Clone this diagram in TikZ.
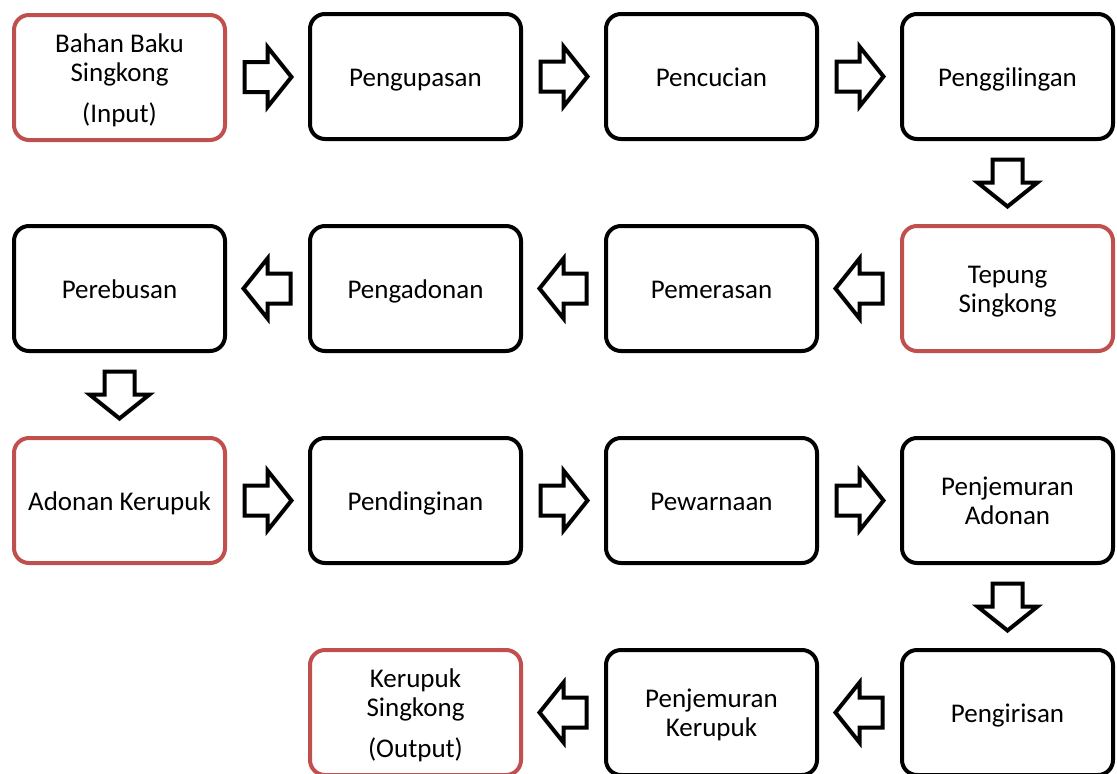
\documentclass[tikz,border=0pt]{standalone}
\usepackage{fontspec}
\setmainfont{Carlito}
\usetikzlibrary{calc}
\definecolor{boxred}{HTML}{C0504D}
\newcommand{\lnstrut}{\rule[-4.7pt]{0pt}{29pt}}
\tikzset{
  stepbox/.style={draw=black, line width=4pt, rounded corners=15pt, minimum width=211pt, minimum height=125pt, inner sep=0pt, align=center, font=\fontsize{27}{29}\selectfont, fill=white},
  redbox/.style={stepbox, draw=boxred},
  blockarrow/.pic={\draw[line width=4pt, line join=miter, fill=white] (-23,-15) -- (0,-15) -- (0,-30) -- (24,0) -- (0,30) -- (0,15) -- (-23,15) -- cycle;}
}
\begin{document}
\begin{tikzpicture}[x=1pt,y=-1pt]
\useasboundingbox (0,0) rectangle (1117,774);
% row 1
\node[redbox] (a1) at (119.5,77.5) {\lnstrut Bahan Baku\\\lnstrut Singkong\\[12pt]\lnstrut (Input)};
\node[stepbox] (a2) at (415.5,76.5) {\lnstrut Pengupasan};
\node[stepbox] (a3) at (711.5,76.5) {\lnstrut Pencucian};
\node[stepbox] (a4) at (1007.5,76.5) {\lnstrut Penggilingan};
% row 2
\node[redbox] (b4) at (1007.5,288.5) {\lnstrut Tepung\\\lnstrut Singkong};
\node[stepbox] (b3) at (711.5,288.5) {\lnstrut Pemerasan};
\node[stepbox] (b2) at (415.5,288.5) {\lnstrut Pengadonan};
\node[stepbox] (b1) at (119.5,288.5) {\lnstrut Perebusan};
% row 3
\node[redbox] (c1) at (119.5,500.5) {\lnstrut Adonan Kerupuk};
\node[stepbox] (c2) at (415.5,500.5) {\lnstrut Pendinginan};
\node[stepbox] (c3) at (711.5,500.5) {\lnstrut Pewarnaan};
\node[stepbox] (c4) at (1007.5,500.5) {\lnstrut Penjemuran\\\lnstrut Adonan};
% row 4
\node[stepbox] (d4) at (1007.5,712.5) {\lnstrut Pengirisan};
\node[stepbox] (d3) at (711.5,712.5) {\lnstrut Penjemuran\\\lnstrut Kerupuk};
\node[redbox] (d2) at (415.5,712.5) {\lnstrut Kerupuk\\\lnstrut Singkong\\[12pt]\lnstrut (Output)};
% arrows
\pic at ($(a1)!0.5!(a2)$) {blockarrow};
\pic at ($(a2)!0.5!(a3)$) {blockarrow};
\pic at ($(a3)!0.5!(a4)$) {blockarrow};
\pic[rotate=-90] at ($(a4)!0.5!(b4)$) {blockarrow};
\pic[rotate=180] at ($(b4)!0.5!(b3)$) {blockarrow};
\pic[rotate=180] at ($(b3)!0.5!(b2)$) {blockarrow};
\pic[rotate=180] at ($(b2)!0.5!(b1)$) {blockarrow};
\pic[rotate=-90] at ($(b1)!0.5!(c1)$) {blockarrow};
\pic at ($(c1)!0.5!(c2)$) {blockarrow};
\pic at ($(c2)!0.5!(c3)$) {blockarrow};
\pic at ($(c3)!0.5!(c4)$) {blockarrow};
\pic[rotate=-90] at ($(c4)!0.5!(d4)$) {blockarrow};
\pic[rotate=180] at ($(d4)!0.5!(d3)$) {blockarrow};
\pic[rotate=180] at ($(d3)!0.5!(d2)$) {blockarrow};
\end{tikzpicture}
\end{document}
